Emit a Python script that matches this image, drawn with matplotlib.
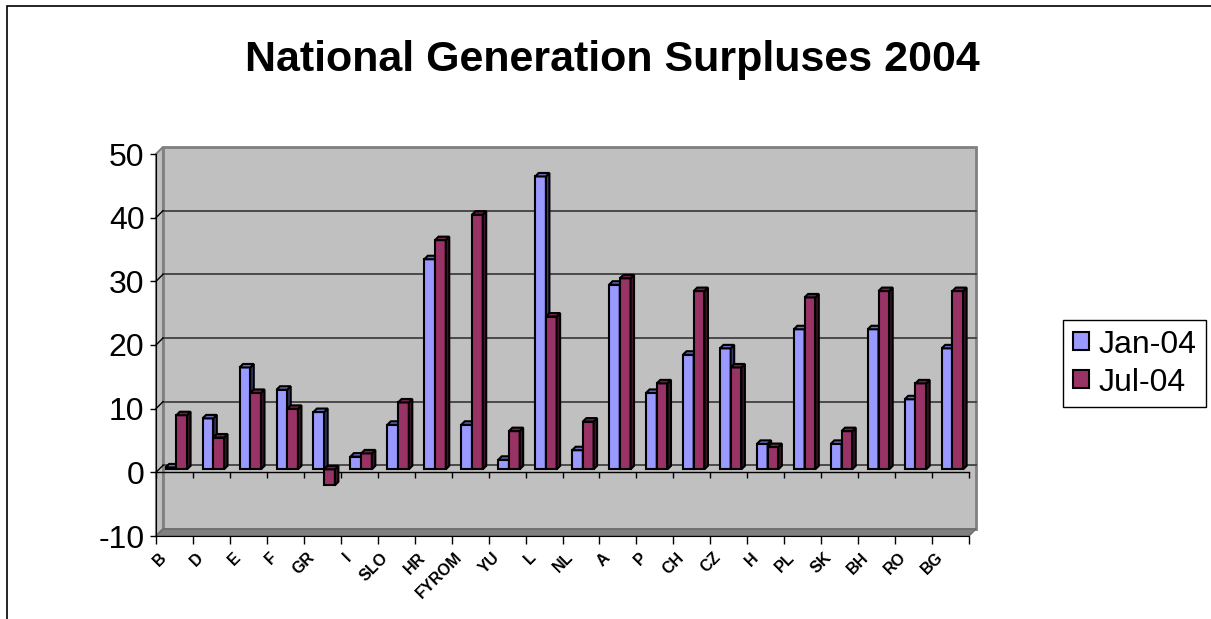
import numpy as np
import matplotlib
matplotlib.use('Agg')
import matplotlib.pyplot as plt
from matplotlib.patches import Rectangle, Polygon, Patch

plt.rcParams['font.family'] = ['Liberation Sans', 'DejaVu Sans']
plt.rcParams['axes.unicode_minus'] = False

# data
countries = ['B', 'D', 'E', 'F', 'GR', 'I', 'SLO', 'HR', 'FYROM', 'YU', 'L',
             'NL', 'A', 'P', 'CH', 'CZ', 'H', 'PL', 'SK', 'BH', 'RO', 'BG']
jan04 = [0.3, 8, 16, 12.5, 9, 2, 7, 33, 7, 1.5, 46,
         3, 29, 12, 18, 19, 4, 22, 4, 22, 11, 19]
jul04 = [8.5, 5, 12, 9.5, -2.5, 2.5, 10.5, 36, 40, 6, 24,
         7.5, 30, 13.5, 28, 16, 3.5, 27, 6, 28, 13.5, 28]
series = ['Jan-04', 'Jul-04']
yticks = [-10, 0, 10, 20, 30, 40, 50]

front = ['#9999FF', '#993366']
side = ['#3D3D73', '#401529']
top = ['#6B6BB8', '#6E2448']

W, H = 1211, 619
fig = plt.figure(figsize=(W / 100, H / 100), dpi=100)
fig.patch.set_facecolor('white')

# outer chart border (runs off the right / bottom of the picture)
fig.patches.append(Rectangle((7 / W, -0.2), 1.5, (H - 6) / H + 0.2, fill=False,
                             edgecolor='black', lw=1.2, transform=fig.transFigure))

fig.text(612 / W, (H - 71) / H, 'National Generation Surpluses 2004',
         ha='center', va='baseline', fontsize=31, fontweight='bold')

# front plane of the 3d box
x0, x1, ytop, ybot = 156, 969, 154, 536
ax = fig.add_axes([x0 / W, (H - ybot) / H, (x1 - x0) / W, (ybot - ytop) / H])
n = len(countries)
ax.set_xlim(0, n)
ax.set_ylim(yticks[0], yticks[-1])
ax.set_facecolor('none')

# pixel -> data units
kx = n / (x1 - x0)
ky = (yticks[-1] - yticks[0]) / (ybot - ytop)
DX, DY = 7 * kx, 7 * ky          # wall depth
bx, by = 3 * kx, 3 * ky          # bar front offset
dx, dy = 3.5 * kx, 3.5 * ky      # bar depth
lo, hi = yticks[0], yticks[-1]

# walls and floor
ax.add_patch(Rectangle((DX, lo + DY), n, hi - lo, fc='#C0C0C0', ec='#808080',
                       lw=2, zorder=0.5, clip_on=False))
ax.add_patch(Polygon([(0, lo), (DX, lo + DY), (DX, hi + DY), (0, hi)],
                     fc='#C0C0C0', ec='#808080', lw=1.5, zorder=0.6, clip_on=False))
ax.add_patch(Polygon([(0, lo), (n, lo), (n + DX, lo + DY), (DX, lo + DY)],
                     fc='#808080', ec='#6A6A6A', lw=1, zorder=0.7, clip_on=False))

for v in yticks[1:-1]:
    ax.plot([DX, n + DX], [v + DY, v + DY], color='#404040', lw=1.3,
            zorder=0.8, clip_on=False)
    ax.plot([0, DX], [v, v + DY], color='black', lw=1, zorder=0.8, clip_on=False)

# category axis at zero
ax.plot([0, n], [0, 0], color='black', lw=1, zorder=1, clip_on=False)
ax.vlines(np.arange(n + 1), -6 * ky, 0, color='black', lw=1, zorder=1, clip_on=False)

# 3d-looking bars
bw = 0.29
for i in range(n):
    for j, vals in enumerate([jan04, jul04]):
        v = vals[i]
        z = 3 + i * 0.1 + j * 0.05
        xl = i + 0.18 + j * bw + bx
        ax.bar(xl, v, width=bw, bottom=by, align='edge', color=front[j],
               edgecolor='black', lw=1.5, zorder=z, clip_on=False)
        xr = xl + bw
        ax.add_patch(Polygon([(xr, by), (xr, by + v), (xr + dx, by + v + dy),
                              (xr + dx, by + dy)], fc=side[j], ec='black',
                             lw=1.5, zorder=z, clip_on=False))
        t = by + max(v, 0)
        ax.add_patch(Polygon([(xl, t), (xr, t), (xr + dx, t + dy), (xl + dx, t + dy)],
                             fc=top[j], ec='black', lw=1.5, zorder=z, clip_on=False))

# axes
for s in ['top', 'right']:
    ax.spines[s].set_visible(False)
ax.spines['left'].set_color('black')
ax.spines['bottom'].set_color('black')
ax.set_yticks(yticks)
ax.tick_params(axis='y', length=4.3, width=1, pad=4, labelsize=23)
ax.set_xticks(np.arange(n + 1))
ax.set_xticklabels([])
ax.tick_params(axis='x', length=5.8, width=1)

for i, c in enumerate(countries):
    ax.annotate(c, (i + 0.08, lo), xytext=(0, -10), textcoords='offset points',
                rotation=45, ha='right', va='top', rotation_mode='anchor',
                fontsize=11.5, fontweight='bold', annotation_clip=False)

handles = [Patch(fc=front[0], ec='black', lw=1.5), Patch(fc=front[1], ec='black', lw=1.5)]
leg = fig.legend(handles, series, loc='upper left',
                 bbox_to_anchor=(1063 / W, (H - 320) / H), fontsize=23,
                 frameon=True, fancybox=False, edgecolor='black', framealpha=1,
                 handlelength=0.5, handleheight=0.5, handletextpad=0.3,
                 borderpad=0.3, labelspacing=0.25, borderaxespad=0)
leg.get_frame().set_linewidth(1)

fig.savefig('out.png', dpi=100)
